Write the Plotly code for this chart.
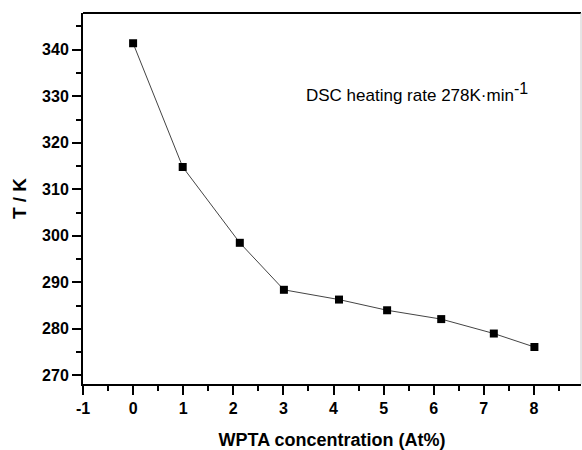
import plotly.graph_objects as go

concentration = [0, 0.99, 2.13, 3.01, 4.11, 5.07, 6.15, 7.2, 8.01]
temperature = [341.4, 314.8, 298.5, 288.4, 286.3, 284.0, 282.1, 279.0, 276.1]

x_ticks = [-1, 0, 1, 2, 3, 4, 5, 6, 7, 8, 9]
y_ticks = [270, 280, 290, 300, 310, 320, 330, 340]

FONT = "Arial, Liberation Sans, sans-serif"

fig = go.Figure()
fig.add_trace(go.Scatter(
    x=concentration, y=temperature, mode="lines+markers",
    line=dict(color="#444444", width=1),
    marker=dict(symbol="square", size=8, color="black"),
    showlegend=False,
))

fig.update_layout(
    width=582, height=450,
    margin=dict(l=83, r=1, t=13, b=66),
    paper_bgcolor="white", plot_bgcolor="white",
    font=dict(family=FONT, color="black"),
    xaxis=dict(
        range=[-1, 8.94], tickvals=x_ticks, ticktext=[str(v) for v in x_ticks],
        showgrid=False, zeroline=False,
        showline=True, linecolor="black", linewidth=2,
        ticks="outside", ticklen=9, tickwidth=2, tickcolor="black",
        minor=dict(dtick=0.5, tick0=-1, ticks="outside", ticklen=5, tickwidth=2, tickcolor="black"),
        tickfont=dict(size=16, family=FONT, weight="bold"),
        title=dict(text="WPTA concentration (At%)", font=dict(size=18, family=FONT, weight="bold"), standoff=18),
    ),
    yaxis=dict(
        range=[268.15, 347.9], tickvals=y_ticks,
        showgrid=False, zeroline=False,
        showline=True, linecolor="black", linewidth=2,
        ticks="outside", ticklen=9, tickwidth=2, tickcolor="black",
        minor=dict(dtick=5, tick0=265, ticks="outside", ticklen=5, tickwidth=2, tickcolor="black"),
        tickfont=dict(size=16, family=FONT, weight="bold"),
        title=dict(text="T / K", font=dict(size=19, family=FONT, weight="bold"), standoff=10),
    ),
    shapes=[
        dict(type="line", xref="paper", yref="paper", x0=0, x1=1, y0=1, y1=1,
             line=dict(color="black", width=2)),
        dict(type="line", xref="paper", yref="paper", x0=1, x1=1, y0=0, y1=1,
             line=dict(color="#cccccc", width=1)),
    ],
    annotations=[
        dict(text="DSC heating rate 278K·min<sup><span style='font-size:16px'>-1</span></sup>",
             xref="paper", yref="paper",
             x=(304 - 83) / 498, y=(384 - 92) / 371, xanchor="left", yanchor="middle",
             showarrow=False, font=dict(size=17, family=FONT, color="black")),
    ],
)

fig.write_html("out.html")
